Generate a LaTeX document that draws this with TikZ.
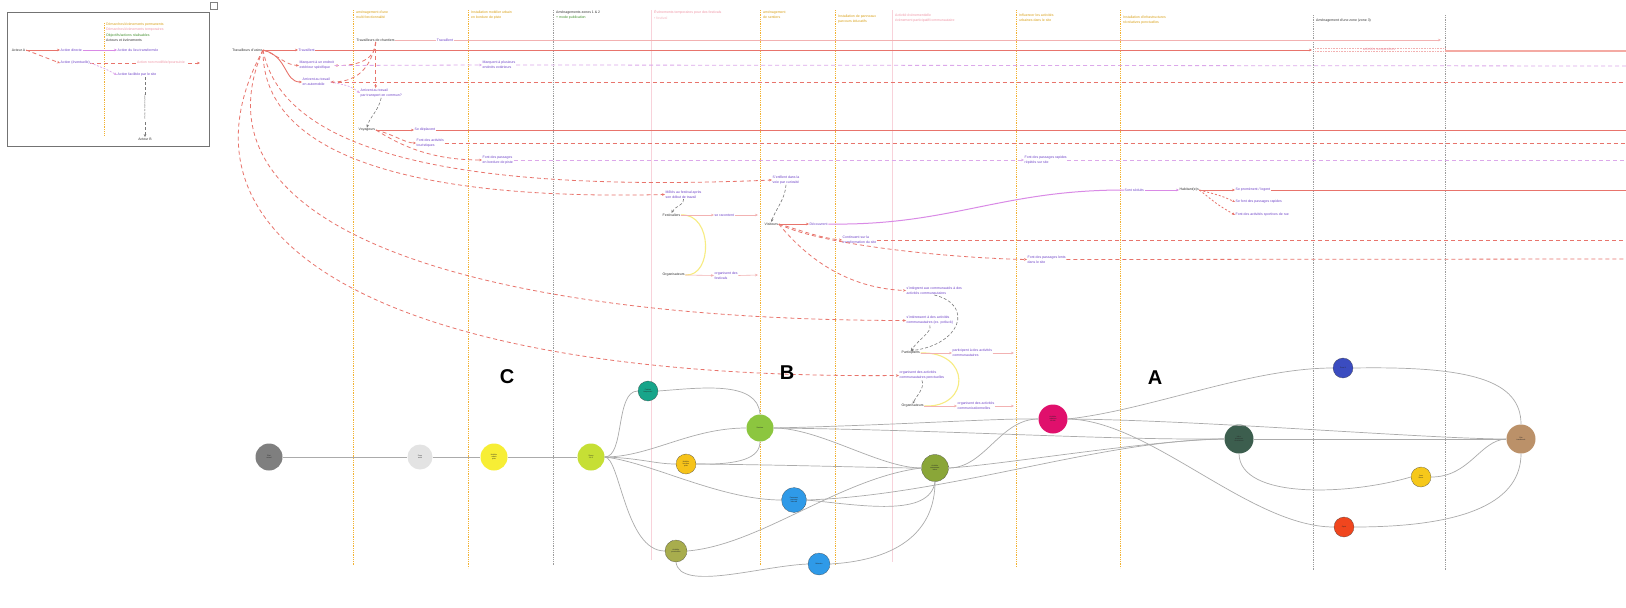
\documentclass[tikz,border=0pt]{standalone}
\usepackage{fontspec}
\setmainfont{Liberation Sans}
\usetikzlibrary{arrows.meta}

\definecolor{redc}{HTML}{E8746C}
\definecolor{redl}{HTML}{F4AAA3}
\definecolor{viol}{HTML}{DCA8EA}
\definecolor{purp}{HTML}{6E42C8}
\definecolor{orch}{HTML}{D98AE6}
\definecolor{pinkl}{HTML}{F2B2B2}
\definecolor{pinkv}{HTML}{F8D2DA}
\definecolor{pinkt}{HTML}{F096A6}
\definecolor{orng}{HTML}{F2B232}
\definecolor{orngt}{HTML}{D9A016}
\definecolor{grayv}{HTML}{9C9C9C}
\definecolor{gdk}{HTML}{7A7A7A}
\definecolor{txtd}{HTML}{333333}
\definecolor{grn}{HTML}{3F8F2A}
\definecolor{yarc}{HTML}{F7EC82}
\definecolor{lnkc}{HTML}{ABABAB}

\begin{document}
\begin{tikzpicture}[x=1pt,y=-1pt,
  every node/.style={font=\fontsize{3.5}{5}\selectfont, inner sep=0.5pt},
  actor/.style={text=txtd, anchor=west},
  act/.style={text=purp, anchor=west, align=left},
  hdr/.style={anchor=north west, align=left, inner sep=0pt, font=\fontsize{3.5}{5.4}\selectfont},
  rsol/.style={draw=redc, line width=0.9pt},
  rdash/.style={draw=redc, line width=0.8pt, dash pattern=on 4pt off 3pt},
  vdash/.style={draw=viol, line width=0.8pt, dash pattern=on 4pt off 3pt},
  pthin/.style={draw=pinkl, line width=0.6pt},
  gdash/.style={draw=gdk, line width=0.6pt, dash pattern=on 3pt off 2pt},
  arr/.style={-{Stealth[length=3pt,width=2.6pt]}},
  vorange/.style={draw=orng, line width=0.8pt, dash pattern=on 0.9pt off 0.9pt},
  vpink/.style={draw=pinkv, line width=0.7pt},
  vgray/.style={draw=grayv, line width=0.6pt, dash pattern=on 0.9pt off 0.9pt},
  lnk/.style={draw=lnkc, line width=0.7pt},
  yarcs/.style={draw=yarc, line width=1.1pt},
  stage/.style={circle, inner sep=0pt, minimum size=#1, align=center, text=black!85, font=\fontsize{1.8}{2.2}\selectfont},
  dotb/.style={draw=black!75, dash pattern=on 0.6pt off 0.6pt, line width=0.4pt},
  zonelbl/.style={font=\fontsize{20}{20}\selectfont\bfseries, text=black, inner sep=0pt},
]
\useasboundingbox (0,0) rectangle (1626,608);
\fill[white] (0,0) rectangle (1626,608);

% ---------- legend ----------
\draw[draw=black!55, line width=0.6pt] (7,12) rectangle (209,146);
\draw[vorange] (104,23) -- (104,136);
\node[hdr] (lgh) at (106,22.8) {\textcolor{orngt}{Démarches/évènements permanents}\\\textcolor{pinkt}{Démarches/évènements temporaires}\\\textcolor{grn}{Objectifs/actions réalisables}\\\textcolor{txtd}{Acteurs et événements}};
\node[actor, anchor=east] (lgA) at (26,50) {Acteur A};
\node[act] (lg1) at (60,50) {Action directe};
\node[act] (lg1b) at (117,50) {Action du lieu transformée};
\node[act] (lg2) at (60,63) {Action (éventuelle)};
\coordinate (lg2e) at (200,63);
\draw[rdash, arr] (lg2.east) -- (lg2e);
\node[text=pinkt, fill=white] (lg2b) at (161,63) {Action non modifiée/poursuivie};
\node[act] (lg3) at (117,75) {Action facilitée par le site};
\node[actor, anchor=center] (lgB) at (145,139) {Acteur B};
\draw[rsol, arr] (lgA.east) -- (lg1.west);
\draw[draw=orch, line width=0.8pt, arr] (lg1.east) -- (lg1b.west);
\draw[rdash, arr] (lgA.east) .. controls (42,57) .. (lg2.west);
\draw[draw=viol, line width=0.7pt, dash pattern=on 2pt off 1.5pt, arr] (lg2.east) .. controls (106,69) .. (lg3.west);
\draw[gdash, arr] (lg3.south -| lgB.north) -- (lgB.north)
  node[midway, rotate=-90, fill=white, inner sep=0.3pt, text=gdk, font=\fontsize{2.2}{2.6}\selectfont] (lgv) {transformation de l'acteur};

% small box at the top
\draw[draw=black!50, line width=0.5pt] (210,2) rectangle (217,9);

% ---------- column guides ----------
\foreach \x/\b in {353/566,468/568,760/566,835/566,1016/567,1120/568}
  \draw[vorange] (\x,10) -- (\x,\b);
\foreach \x/\b in {651/560,892/562}
  \draw[vpink] (\x,10) -- (\x,\b);
\foreach \x/\t/\b in {553/10/566,1313/15/570,1445/15/570}
  \draw[vgray] (\x,\t) -- (\x,\b);

\node[hdr,text=orngt] (h1) at (356,10.5) {aménagement d'une\\multi fonctionnalité};
\node[hdr,text=orngt] (h2) at (471,10.5) {Installation mobilier urbain\\en bordure de piste};
\node[hdr,text=txtd] (h3) at (556,10.5) {Aménagements zones 1 \& 2\\\textcolor{grn}{+ mode publication}};
\node[hdr,text=pinkt] (h4) at (654,10.5) {Évènements temporaires pour des festivals\\\textcolor{pinkt!70}{• festival}};
\node[hdr,text=orngt] (h5) at (763,10.5) {aménagement\\de sentiers};
\node[hdr,text=orngt] (h6) at (838,14.5) {Installation de panneaux\\parcours éducatifs};
\node[hdr,text=pinkt] (h7) at (895,13.5) {Activité évènementielle\\évènement participatif/communautaire};
\node[hdr,text=orngt] (h8) at (1019,13.5) {Influencer les activités\\urbaines dans le site};
\node[hdr,text=orngt] (h9) at (1123,15.5) {Installation d'infrastructures\\récréatives ponctuelles};
\node[hdr,text=txtd] (h10) at (1316,18.5) {Aménagement d'une zone (zone 3)};

% ---------- actors and actions ----------
\node[actor, anchor=east] (tu) at (263,50) {Travailleurs d'usine};
\node[act] (atrav) at (298,50) {Travaillent};
\node[actor] (tc) at (356,40) {Travailleurs de chantiers};
\node[act, fill=white, anchor=center] (atrav2) at (445,40) {Travaillent};
\node[act] (amarq) at (299,65.5) {Marquent à un endroit\\extérieur spécifique};
\node[act] (aarr) at (302,82) {Arrivent au travail\\en automobile};
\node[act] (atc) at (360,93) {Arrivent au travail\\par transport en commun?};
\node[act] (amarq2) at (482,65) {Marquent à plusieurs\\endroits extérieurs};
\node[actor] (voy) at (358,130) {Voyageurs};
\node[act] (adep) at (414,130) {Se déplacent};
\node[act] (aact) at (416,143) {Font des activités\\touristiques};
\node[act] (apass) at (482,160) {Font des passages\\en bordure de piste};
\node[act] (arapi) at (1024,160) {Font des passages rapides\\répétés sur site};
\node[act] (aenf) at (772,180) {S'enfilent dans la\\voie par curiosité};
\node[act] (amel) at (665,194.5) {Mêlés au festival après\\son début de travail};
\node[actor] (fest) at (662,215) {Festivaliers};
\node[actor] (org1) at (662,275) {Organisateurs};
\node[act] (arac) at (714,215) {se racontent};
\node[act] (aorgf) at (714,275.5) {organisent des\\festivals};
\node[actor] (vis) at (764,224) {Visiteurs};
\node[act] (adec) at (809,224) {Découvrent};
\node[act] (ased) at (1124,190) {Sont séduits};
\node[actor] (res) at (1179,190) {Habitant(e)s};
\node[act] (aprom) at (1235,190) {Se promènent / logent};
\node[act] (arap) at (1235,202) {Se font des passages rapides};
\node[act] (aspo) at (1235,215) {Font des activités sportives de rue};
\node[act] (acont) at (842,240) {Continuent sur la\\transformation du site};
\node[act] (alent) at (1027,259.5) {Font des passages lents\\dans le site};
\node[act] (ainteg) at (906,290.5) {s'intègrent aux communautés à des\\activités communautaires};
\node[act] (ainter) at (906,320.5) {s'intéressent à des activités\\communautaires (ex. potluck)};
\node[actor] (part) at (901,353) {Participants};
\node[act] (apart) at (952,353) {participent à des activités\\communautaires};
\node[act] (aorgp) at (899,375.5) {organisent des activités\\communautaires ponctuelles};
\node[actor] (org2) at (901,406) {Organisateurs};
\node[act] (aorga) at (957,406) {organisent des activités\\communicationnelles};

% free ends
\coordinate (e40) at (1441,40);
\coordinate (e50a) at (1312,50);
\coordinate (e50b) at (1315,50);
\coordinate (e50c) at (1445,51);
\coordinate (e50d) at (1626,51);
\coordinate (e66) at (1626,66);
\coordinate (e82) at (1626,82);
\coordinate (e130) at (1626,130);
\coordinate (e143) at (1626,143);
\coordinate (e160) at (1626,160);
\coordinate (e190) at (1626,190);
\coordinate (e240) at (1626,240);
\coordinate (e259) at (1626,259);
\coordinate (fe1) at (758,215);
\coordinate (fe2) at (758,275);
\coordinate (pe1) at (1014,353);
\coordinate (pe2) at (1014,406);

% factory workers
\draw[rsol, arr] (tu.east) -- (atrav.west);
\draw[rsol, arr] (atrav.east) -- (e50a);
\draw[draw=pinkl, line width=0.5pt, dash pattern=on 0.8pt off 0.8pt] (e50b) ++(0,-1.5) -- ++(130,0);
\draw[draw=pinkl, line width=0.5pt, dash pattern=on 0.8pt off 0.8pt] (e50b) ++(0,1.5) -- ++(130,0);
\node[text=pinkt] (asusp) at (1379,50) {activités suspendues};
\draw[draw=redl, line width=1.6pt] (e50c) -- (e50d);
\draw[rdash, arr] (tu.east) .. controls (280,56) and (285,65) .. (amarq.west);
\draw[rsol, arr] (tu.east) .. controls (288,56) and (284,82) .. (aarr.west);
\draw[rdash, arr] (tu.east) .. controls (280,140) and (420,195) .. (aenf.west);
\draw[rdash, arr] (tu.east) .. controls (262,165) and (440,200) .. (amel.west);
\draw[rdash, arr] (tu.east) .. controls (185,230) and (480,320) .. (ainter.west);
\draw[rdash, arr] (tu.east) .. controls (160,240) and (380,380) .. (aorgp.west);

% site workers
\draw[pthin] (tc.east) -- (atrav2.west);
\draw[pthin, arr] (atrav2.east) -- (e40);
\draw[rdash, arr] (tc.south) -- (tc.south |- atc.north);
\draw[rdash, arr] (tc.south) .. controls (376,58) and (360,66) .. (amarq.east);
\draw[rdash, arr] (tc.south) .. controls (372,62) and (362,82) .. (aarr.east);
\draw[vdash, arr] (amarq.east) -- (amarq2.west);
\draw[vdash] (amarq2.east) -- (e66);
\draw[rdash] (aarr.east) -- (e82);
\draw[draw=viol, line width=0.7pt, dash pattern=on 2pt off 1.5pt, arr] (aarr.east) .. controls (350,86) .. (atc.west);
\draw[gdash, arr] (atc.south) .. controls (378,112) and (370,116) .. (voy.north);

% travellers
\draw[rsol, arr] (voy.east) -- (adep.west);
\draw[rsol] (adep.east) -- (e130);
\draw[rdash, arr] (voy.east) .. controls (395,135) and (405,143) .. (aact.west);
\draw[rdash, arr] (voy.east) .. controls (400,145) and (430,160) .. (apass.west);
\draw[rdash] (aact.east) -- (e143);
\draw[vdash, arr] (apass.east) -- (arapi.west);
\draw[vdash] (arapi.east) -- (e160);

% festival
\draw[gdash, arr] (aenf.south) .. controls (785,200) and (775,210) .. (vis.north);
\draw[gdash, arr] (amel.south) .. controls (685,205) and (675,206) .. (fest.north);
\draw[yarcs] (fest.east) .. controls (713,213) and (713,277) .. (org1.east);
\draw[pthin, arr] (fest.east) -- (arac.west);
\draw[pthin, arr] (arac.east) -- (fe1);
\draw[pthin, arr] (org1.east) -- (aorgf.west);
\draw[pthin, arr] (aorgf.east) -- (fe2);

% visitors
\draw[rsol, arr] (vis.east) -- (adec.west);
\draw[draw=orch, line width=1pt] (adec.east) .. controls (950,226) and (1000,190) .. (ased.west);
\draw[draw=orch, line width=0.8pt, arr] (ased.east) -- (res.west);
\draw[rsol, arr] (res.east) -- (aprom.west);
\draw[rsol] (aprom.east) -- (e190);
\draw[rdash, arr, dash pattern=on 2pt off 2pt] (res.east) .. controls (1222,196) .. (arap.west);
\draw[rdash, arr, dash pattern=on 2pt off 2pt] (res.east) .. controls (1218,205) .. (aspo.west);
\draw[rdash, arr] (vis.east) .. controls (800,230) and (820,238) .. (acont.west);
\draw[rdash, arr] (vis.east) .. controls (820,245) and (950,258) .. (alent.west);
\draw[rdash, arr] (vis.east) .. controls (800,250) and (840,288) .. (ainteg.west);
\draw[rdash] (acont.east) -- (e240);
\draw[rdash] (alent.east) -- (e259);

% community
\draw[gdash, arr] (ainteg.south) .. controls (975,305) and (960,345) .. (part.north);
\draw[gdash, arr] (ainter.south) .. controls (932,332) and (920,338) .. (part.north);
\draw[gdash, arr] (aorgp.south) .. controls (925,388) and (917,395) .. (org2.north);
\draw[yarcs] (part.east) .. controls (971,351) and (971,408) .. (org2.east);
\draw[pthin, arr] (part.east) -- (apart.west);
\draw[pthin, arr] (apart.east) -- (pe1);
\draw[pthin, arr] (org2.east) -- (aorga.west);
\draw[pthin, arr] (aorga.east) -- (pe2);

% ---------- zone letters ----------
\node[zonelbl] (lblC) at (507,377) {C};
\node[zonelbl] (lblB) at (787,373) {B};
\node[zonelbl] (lblA) at (1155,378) {A};

% ---------- evolution graph ----------
\node[stage=27pt, fill={rgb,255:red,127;green,127;blue,127}] (c1) at (269,457) {État\\actuel};
\node[stage=25pt, fill={rgb,255:red,227;green,227;blue,227}] (c2) at (420,457) {Zone\\multi};
\node[stage=27pt, fill={rgb,255:red,247;green,238;blue,53}] (c3) at (494,457) {Mobilier\\urbain\\piste};
\node[stage=27pt, fill={rgb,255:red,198;green,223;blue,53}] (c4) at (591,457) {Zones\\1 \& 2};
\node[stage=20pt, dotb, fill={rgb,255:red,23;green,165;blue,138}] (c5) at (648,391) {Festival\\temporaire};
\node[stage=20pt, dotb, fill={rgb,255:red,246;green,195;blue,26}] (c6) at (686,464) {Mobilier\\bordure\\piste};
\node[stage=27pt, fill={rgb,255:red,140;green,198;blue,63}] (c7) at (760,428) {Sentiers};
\node[stage=25pt, dotb, fill={rgb,255:red,47;green,154;blue,232}] (c8) at (794,500) {Panneaux\\parcours\\éducatif};
\node[stage=22pt, dotb, fill={rgb,255:red,168;green,173;blue,77}] (c9) at (676,551) {Activités\\ponctuelles};
\node[stage=22pt, dotb, fill={rgb,255:red,47;green,154;blue,232}] (c10) at (819,564) {Mémoire};
\node[stage=27pt, dotb, fill={rgb,255:red,138;green,166;blue,56}] (c11) at (935,468) {Activités\\communau-\\taires};
\node[stage=29pt, fill={rgb,255:red,224;green,16;blue,108}] (c12) at (1053,419) {Activités\\urbaines\\du site};
\node[stage=29pt, fill={rgb,255:red,60;green,94;blue,78}] (c13) at (1239,439) {Infra-\\structures\\récréatives};
\node[stage=20pt, dotb, fill={rgb,255:red,59;green,76;blue,192}] (c14) at (1343,368) {Zone 3};
\node[stage=20pt, dotb, fill={rgb,255:red,246;green,200;blue,26}] (c15) at (1421,477) {Jeux\\libres};
\node[stage=20pt, dotb, fill={rgb,255:red,240;green,70;blue,30}] (c16) at (1344,527) {Sport};
\node[stage=29pt, fill={rgb,255:red,187;green,145;blue,105}] (c17) at (1521,439) {Site\\transformé};

\draw[lnk] (c1.east) -- (c2.west);
\draw[lnk] (c2.east) -- (c3.west);
\draw[lnk] (c3.east) -- (c4.west);
\draw[lnk] (c4.east) .. controls (625,457) and (615,391) .. (c5.west);
\draw[lnk] (c5.east) .. controls (700,388) and (758,380) .. (c7.north);
\draw[lnk] (c4.east) .. controls (650,457) and (690,428) .. (c7.west);
\draw[lnk] (c4.east) .. controls (640,458) and (655,464) .. (c6.west);
\draw[lnk] (c6.east) .. controls (740,465) and (760,458) .. (c7.south);
\draw[lnk] (c6.east) .. controls (800,465) and (880,468) .. (c11.west);
\draw[lnk] (c4.east) .. controls (650,462) and (720,500) .. (c8.west);
\draw[lnk] (c4.east) .. controls (620,457) and (625,551) .. (c9.west);
\draw[lnk] (c9.east) .. controls (760,545) and (840,478) .. (c11.west);
\draw[lnk] (c9.south) .. controls (680,592) and (760,566) .. (c10.west);
\draw[lnk] (c10.east) .. controls (900,560) and (935,530) .. (c11.south);
\draw[lnk] (c7.east) .. controls (820,428) and (880,468) .. (c11.west);
\draw[lnk] (c7.east) .. controls (900,425) and (1000,418) .. (c12.west);
\draw[lnk] (c7.east) .. controls (950,430) and (1100,440) .. (c13.west);
\draw[lnk] (c8.east) .. controls (860,505) and (930,518) .. (c11.south);
\draw[lnk] (c8.east) .. controls (950,495) and (1100,440) .. (c13.west);
\draw[lnk] (c11.east) .. controls (1000,465) and (1150,440) .. (c13.west);
\draw[lnk] (c11.east) .. controls (985,468) and (1000,419) .. (c12.west);
\draw[lnk] (c12.east) .. controls (1200,420) and (1430,439) .. (c17.west);
\draw[lnk] (c12.east) .. controls (1150,410) and (1250,368) .. (c14.west);
\draw[lnk] (c12.east) .. controls (1150,420) and (1250,527) .. (c16.west);
\draw[lnk] (c13.east) -- (c17.west);
\draw[lnk] (c13.south) .. controls (1240,500) and (1350,495) .. (c15.west);
\draw[lnk] (c15.east) .. controls (1470,477) and (1480,440) .. (c17.west);
\draw[lnk] (c14.east) .. controls (1470,366) and (1521,380) .. (c17.north);
\draw[lnk] (c16.east) .. controls (1470,527) and (1521,500) .. (c17.south);
\end{tikzpicture}
\end{document}
